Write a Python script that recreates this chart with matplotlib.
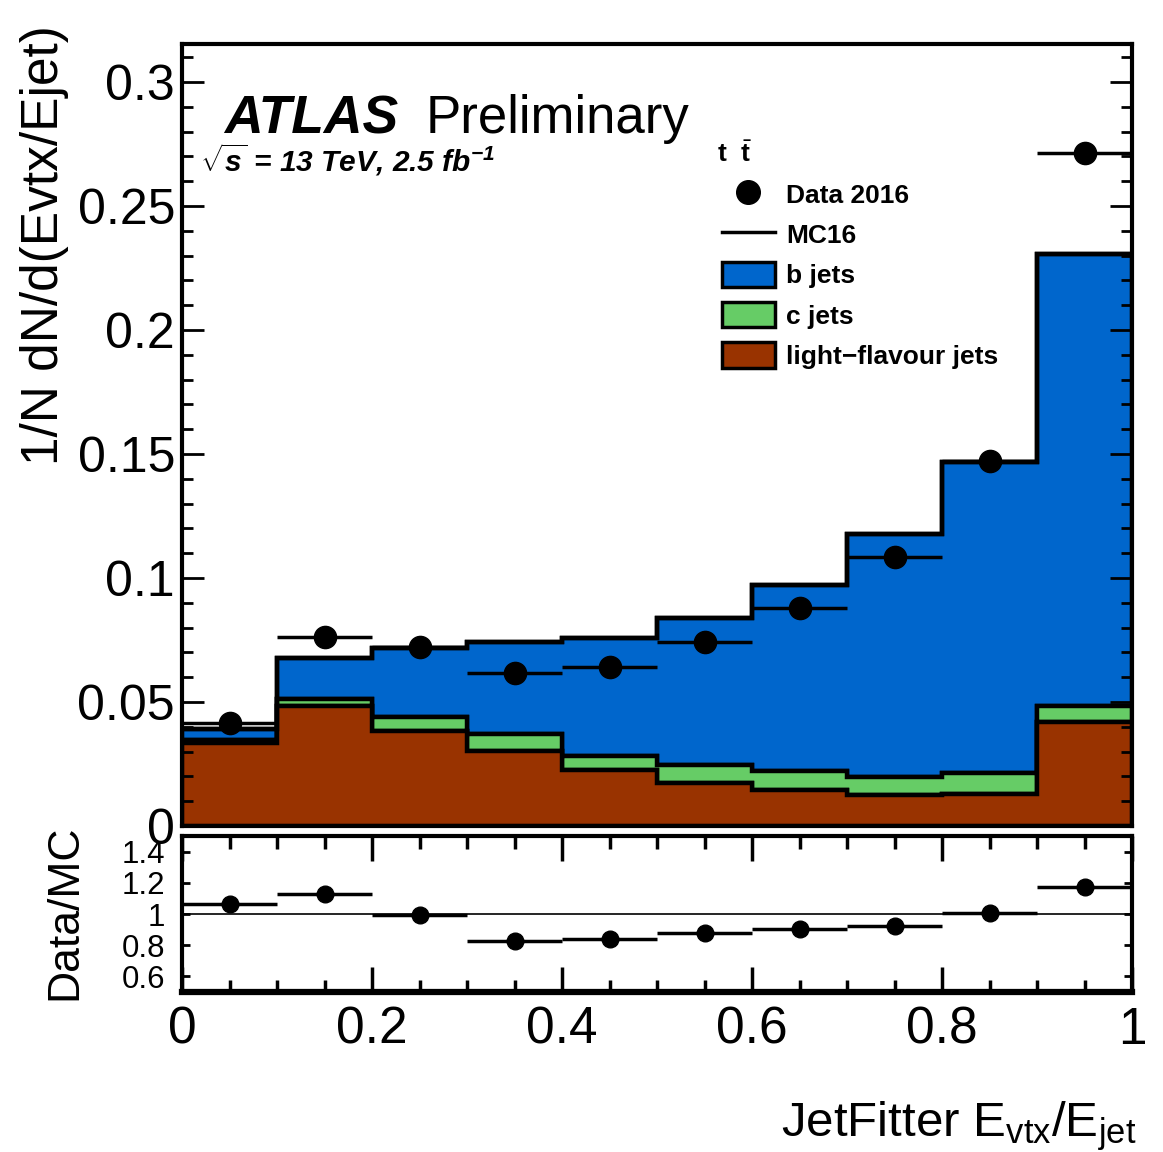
"""JetFitter Evtx/Ejet: data vs stacked MC flavours, with Data/MC ratio."""
import numpy as np
import matplotlib
matplotlib.use("Agg")
import matplotlib.pyplot as plt
from matplotlib.lines import Line2D
from matplotlib.patches import Patch
from matplotlib.ticker import MultipleLocator, FixedLocator

plt.rcParams["font.family"] = "Liberation Sans"
plt.rcParams["mathtext.fontset"] = "custom"
plt.rcParams["mathtext.rm"] = "Liberation Sans"
plt.rcParams["mathtext.it"] = "Liberation Sans:italic"
plt.rcParams["mathtext.bf"] = "Liberation Sans:bold"
plt.rcParams["mathtext.bfit"] = "Liberation Sans:italic:bold"

# binning
edges = np.linspace(0.0, 1.0, 11)
centers = 0.5 * (edges[:-1] + edges[1:])

# MC16 components (normalised)
light_jets = [0.0335, 0.0484, 0.0383, 0.0302, 0.0226, 0.0175, 0.0145, 0.0125, 0.0131, 0.0420]
c_jets     = [0.0010, 0.0030, 0.0058, 0.0068, 0.0056, 0.0071, 0.0077, 0.0074, 0.0084, 0.0065]
b_jets     = [0.0045, 0.0163, 0.0275, 0.0370, 0.0478, 0.0591, 0.0750, 0.0977, 0.1253, 0.1821]

# Data 2016
data = [0.0415, 0.0762, 0.0720, 0.0616, 0.0642, 0.0740, 0.0877, 0.1083, 0.1472, 0.2714]
ratio = [1.064, 1.130, 0.996, 0.829, 0.842, 0.879, 0.904, 0.921, 1.006, 1.176]

COL_B = "#0066cc"
COL_C = "#66cc66"
COL_L = "#993300"

W, H = 1163, 1152
fig = plt.figure(figsize=(W / 100, H / 100), dpi=100)
ax = fig.add_axes([182 / W, 1 - 826 / H, 950 / W, 782 / H])
rax = fig.add_axes([182 / W, 1 - 992 / H, 950 / W, 156 / H])

# stacked MC
ax.hist([centers] * 3, bins=edges, weights=[light_jets, c_jets, b_jets], stacked=True,
        histtype="stepfilled", color=[COL_L, COL_C, COL_B], edgecolor="black", linewidth=3.2)
total = np.array(light_jets) + np.array(c_jets) + np.array(b_jets)
ax.stairs(total, edges, color="black", linewidth=3.2, baseline=None)

ax.errorbar(centers, data, xerr=0.05, fmt="o", color="black", ms=16,
            elinewidth=2.5, capsize=0)

ax.set_xlim(0, 1)
ax.set_ylim(0, 0.3153)
ax.yaxis.set_major_locator(MultipleLocator(0.05))
ax.yaxis.set_minor_locator(MultipleLocator(0.01))
ax.set_yticks([0, 0.05, 0.1, 0.15, 0.2, 0.25, 0.3])
ax.set_yticklabels(["0", "0.05", "0.1", "0.15", "0.2", "0.25", "0.3"])
ax.tick_params(axis="y", which="both", direction="in", left=True, right=True,
               labelsize=36, pad=5, width=2)
ax.tick_params(axis="y", which="major", length=16)
ax.tick_params(axis="y", which="minor", length=8)
ax.tick_params(axis="x", which="both", bottom=False, top=False, labelbottom=False)
for s in ax.spines.values():
    s.set_linewidth(3)

# ratio panel
rax.axhline(1.0, color="black", linewidth=1.2)
rax.errorbar(centers, ratio, xerr=0.05, fmt="o", color="black", ms=12,
             elinewidth=2.5, capsize=0)
rax.set_xlim(0, 1)
rax.set_ylim(0.5, 1.5)
rax.yaxis.set_major_locator(FixedLocator([0.6, 0.8, 1.0, 1.2, 1.4]))
rax.set_yticklabels(["0.6", "0.8", "1", "1.2", "1.4"])
rax.xaxis.set_major_locator(MultipleLocator(0.2))
rax.xaxis.set_minor_locator(MultipleLocator(0.05))
rax.set_xticks([0, 0.2, 0.4, 0.6, 0.8, 1.0])
rax.set_xticklabels(["0", "0.2", "0.4", "0.6", "0.8", "1"])
rax.tick_params(axis="x", which="both", direction="in", top=True, bottom=True,
                labelsize=37, pad=10, width=2.5)
rax.tick_params(axis="x", which="major", length=18)
rax.tick_params(axis="x", which="minor", length=9)
rax.tick_params(axis="y", which="both", direction="in", left=True, right=True,
                labelsize=22.5, pad=12, length=6, width=2)
for s in rax.spines.values():
    s.set_linewidth(3)
rax.spines["bottom"].set_linewidth(4.5)

# legend
handles = [
    Line2D([], [], marker="o", color="black", ms=17, linestyle="none"),
    Line2D([], [], color="black", linewidth=2.5),
    Patch(facecolor=COL_B, edgecolor="black", linewidth=2.5),
    Patch(facecolor=COL_C, edgecolor="black", linewidth=2.5),
    Patch(facecolor=COL_L, edgecolor="black", linewidth=2.5),
]
labels = ["Data 2016", "MC16", "b jets", "c jets", "light\u2212flavour jets"]
leg = ax.legend(handles, labels, loc="upper left",
                bbox_to_anchor=((722 - 182) / 950, (826 - 181) / 782),
                frameon=False, borderpad=0, borderaxespad=0,
                prop={"size": 19, "weight": "bold"},
                handlelength=2.0, handleheight=1.1,
                handletextpad=0.42, labelspacing=0.52)
fig.text(717 / W, 1 - 162 / H, r"$\mathbf{t}\ \ \bar{\mathbf{t}}$", fontsize=19,
         va="baseline")

# ATLAS labels
fig.text(224 / W, 1 - 133 / H, "ATLAS", fontsize=38.5, weight="bold", style="italic",
         va="baseline")
fig.text(426 / W, 1 - 133 / H, "Preliminary", fontsize=38, va="baseline")
fig.text(200 / W, 1 - 172 / H, r"$\sqrt{\mathbfit{s}}$ = 13 TeV, 2.5 fb$^{\mathbfit{-1}}$",
         fontsize=21.5, weight="bold", style="italic", va="baseline")

# axis titles
fig.text(45 / W, 1 - 25 / H, "1/N dN/d(Evtx/Ejet)", rotation=90, fontsize=37,
         ha="center", va="top")
fig.text(65 / W, 1 - 825 / H, "Data/MC", rotation=90, fontsize=32,
         ha="center", va="top")
fig.text(1136 / W, 1 - 1136 / H, r"JetFitter E$_{\mathrm{vtx}}$/E$_{\mathrm{jet}}$",
         fontsize=35.5, ha="right", va="baseline")

fig.savefig("out.png", dpi=100)
